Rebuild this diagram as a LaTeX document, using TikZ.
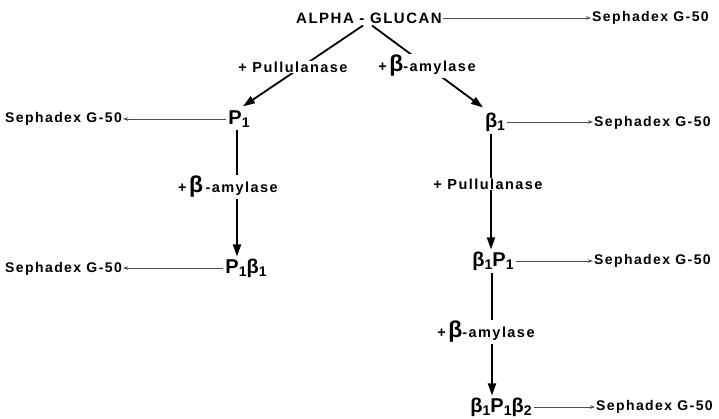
\documentclass[tikz,border=0pt]{standalone}
\usepackage{fontspec}
\setmainfont{Liberation Sans}
\newfontfamily\specfont{Liberation Sans}[LetterSpace=10]
\usetikzlibrary{arrows.meta, positioning}
% subscript index and enlarged beta
\newcommand\lowix[1]{\raisebox{-0.3ex}{\fontsize{14}{14}\selectfont #1}}
\newcommand\bigbeta{{\fontsize{23}{23}\selectfont β}}
\tikzset{
  % Sephadex run-off labels
  gel/.style={font={\specfont\bfseries\fontsize{14}{16}\selectfont},
              inner sep=1pt},
  % glucan fractions
  frac/.style={font={\bfseries\fontsize{20}{22}\selectfont},inner sep=2pt},
  % enzyme steps sitting on the lines
  enz/.style={font={\specfont\bfseries\fontsize{14.5}{16}\selectfont},
              fill=white,inner sep=1pt},
  % Arrows
  Flow/.style={-{Triangle[length=12pt,width=8pt]},line width=1.8pt},
  Gel/.style ={-{Stealth[length=5pt,width=3.5pt]},line width=0.8pt,
               color=black!70},
}

\begin{document}
\begin{tikzpicture}[x=1pt,y=-1pt]
  \useasboundingbox (0,0) rectangle (719,418);
  % Starting material
  \node[gel,font={\specfont\bfseries\fontsize{15}{17}\selectfont}]
        at (369,18) (ag) {ALPHA - GLUCAN};
  \node[gel,anchor=west] at (591,18) (s0) {Sephadex G-50};
  % Pullulanase branch — left
  \node[frac] at (239,119) (p1) {P\lowix{1}};
  \node[gel,anchor=east] at (123,119) (s1) {Sephadex G-50};
  \node[frac] at (246,268) (p1b1) {P\lowix{1}β\lowix{1}};
  \node[gel,anchor=east] at (123,269) (s3) {Sephadex G-50};
  % beta-amylase branch — right
  \node[frac] at (495,122) (b1) {β\lowix{1}};
  \node[gel,anchor=west] at (593,123) (s2) {Sephadex G-50};
  \node[frac] at (493,261) (b1p1) {β\lowix{1}P\lowix{1}};
  \node[gel,anchor=west] at (593,261) (s4) {Sephadex G-50};
  \node[frac] at (501,407) (b1p1b2) {β\lowix{1}P\lowix{1}β\lowix{2}};
  \node[gel,anchor=west] at (595,407) (s5) {Sephadex G-50};

  % Enzyme treatments
  \draw[Flow] ([xshift=-6pt,yshift=-1pt]ag.south) -- ([xshift=4pt,yshift=2pt]p1.north);
  \draw[Flow] ([xshift=3pt,yshift=-1pt]ag.south) -- ([xshift=-12pt,yshift=3pt]b1.north);
  \draw[Flow] ([xshift=-2pt]p1.south) -- ([xshift=-2pt]p1.south |- p1b1.north);
  \draw[Flow] ([xshift=-4pt]b1.south) -- ([xshift=-4pt]b1.south |- b1p1.north);
  \draw[Flow] ([xshift=-1pt]b1p1.south) -- ([xshift=-1pt]b1p1.south |- b1p1b2.north);

  \node[enz] at (293,67) (e1) {+ Pullulanase};
  \node[enz] at (427,66) (e2) {+\,\bigbeta-amylase};
  \node[enz] at (228,187) (e3) {+\,\bigbeta\,-amylase};
  \node[enz] at (488,184) (e4) {+ Pullulanase};
  \node[enz] at (486,332) (e5) {+\,\bigbeta-amylase};

  % Gel filtration of each fraction
  \draw[Gel] (ag.east) -- (ag.east -| s0.west);
  \draw[Gel] (p1.west) -- (p1.west -| s1.east);
  \draw[Gel] (b1.east) -- (b1.east -| s2.west);
  \draw[Gel] (p1b1.west) -- (p1b1.west -| s3.east);
  \draw[Gel] (b1p1.east) -- (b1p1.east -| s4.west);
  \draw[Gel] (b1p1b2.east) -- (b1p1b2.east -| s5.west);
\end{tikzpicture}
\end{document}
